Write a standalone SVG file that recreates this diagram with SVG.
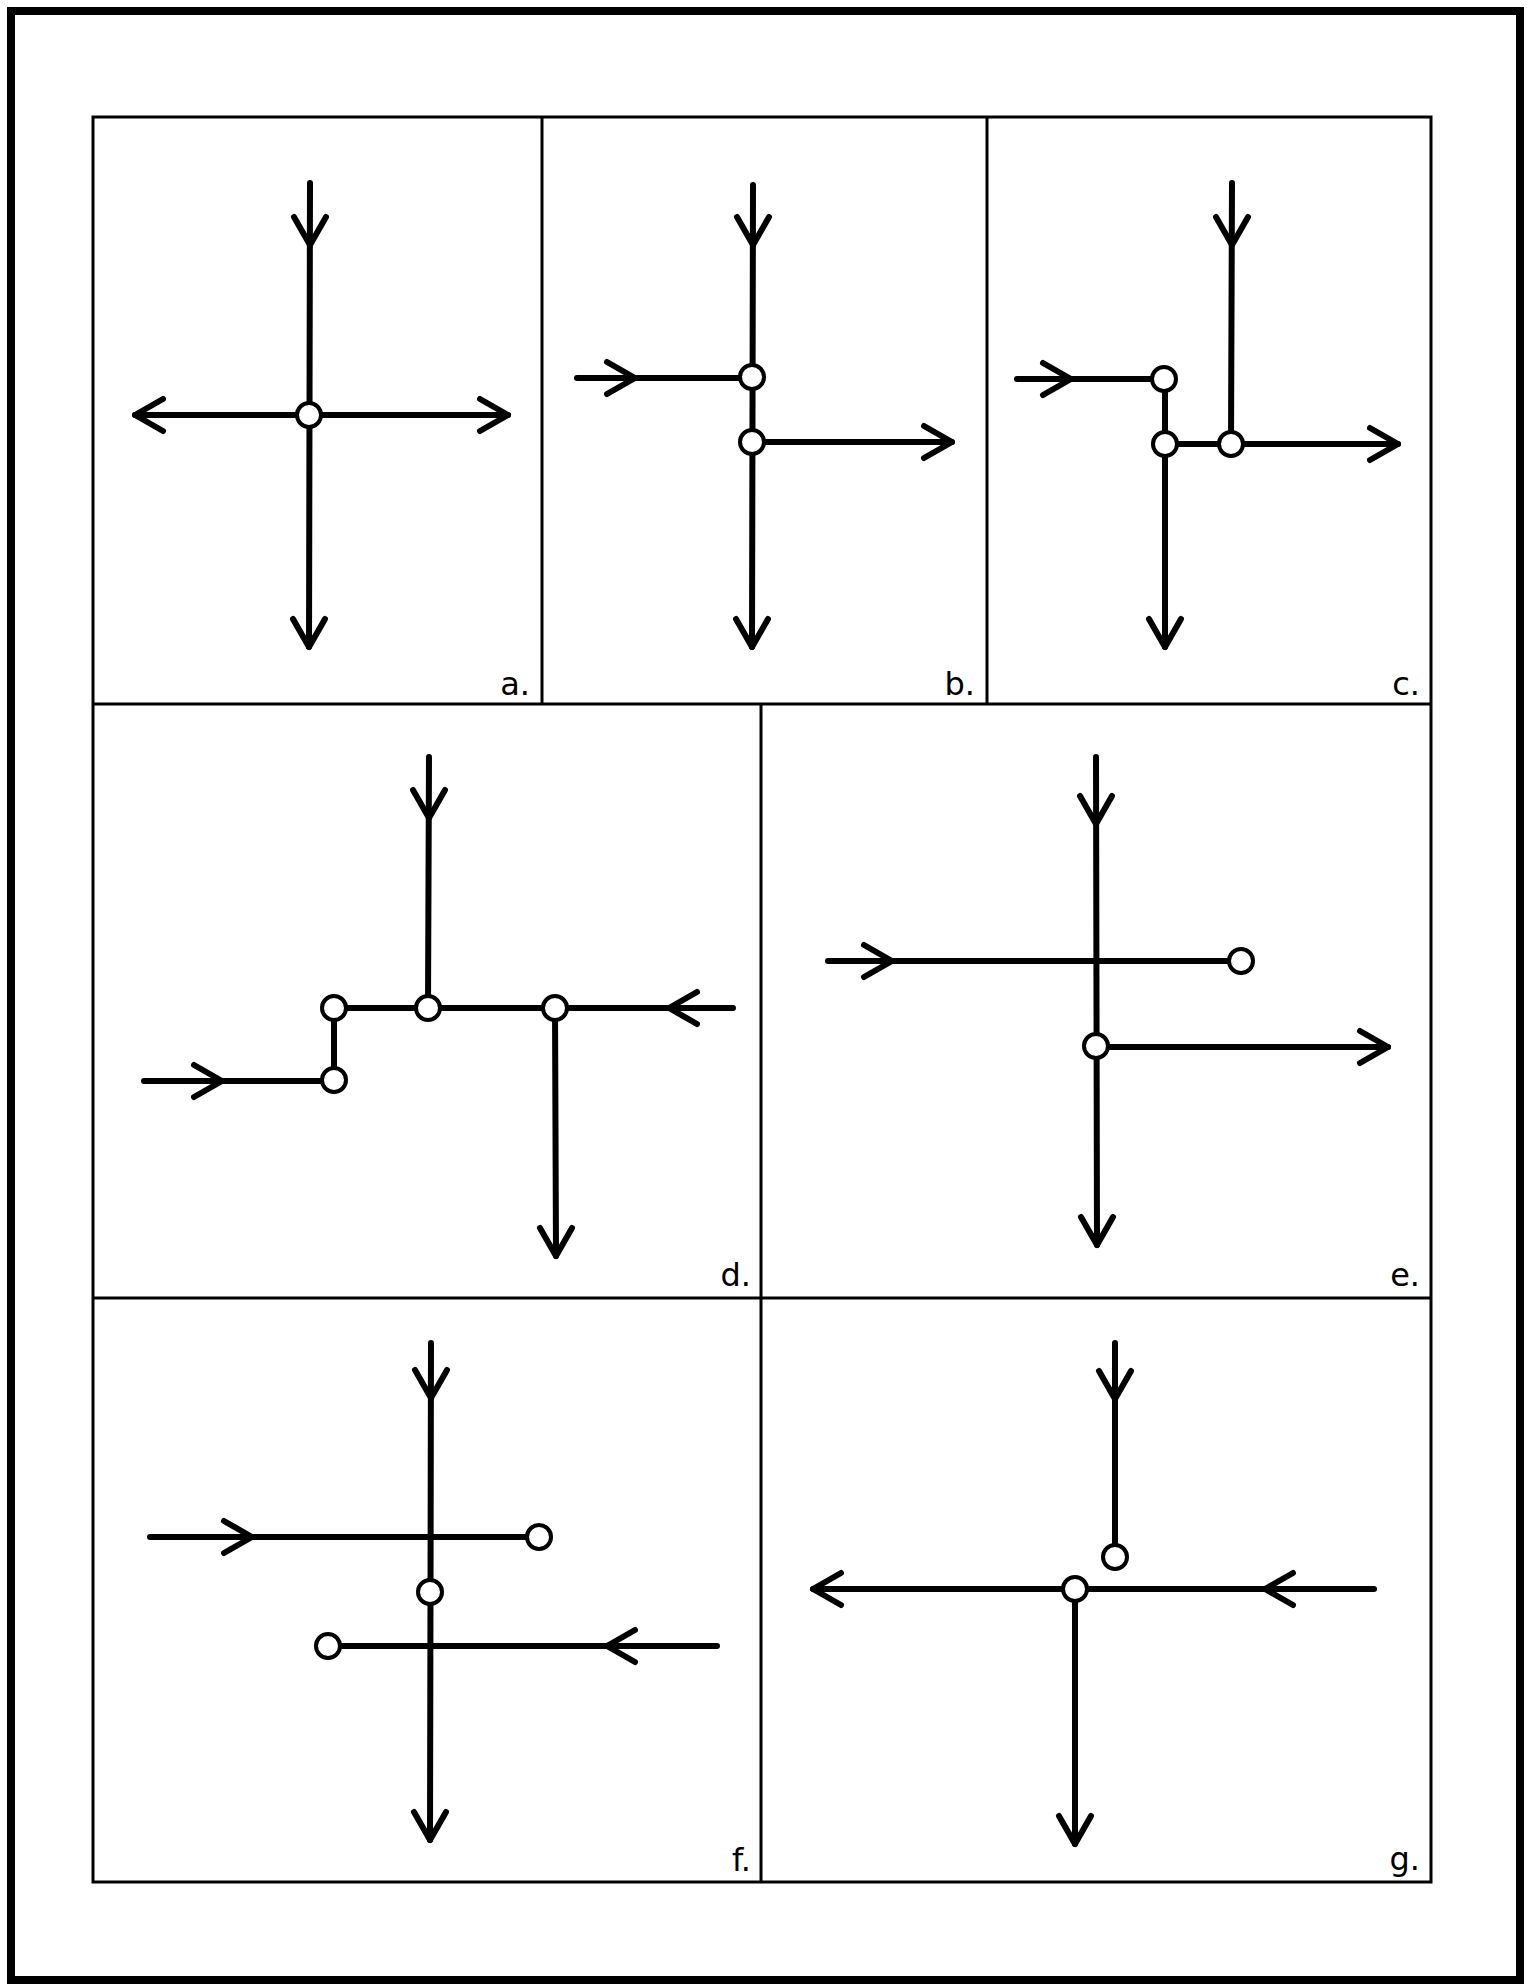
<svg xmlns="http://www.w3.org/2000/svg" xmlns:xlink="http://www.w3.org/1999/xlink" width="1527" height="1985" viewBox="0 0 1527 1985">
<style>
.frame{fill:none;stroke:#000;stroke-width:3}
.outer{fill:none;stroke:#000;stroke-width:8}
.ln{fill:none;stroke:#000;stroke-width:6;stroke-linecap:round;stroke-linejoin:round}
.node{fill:#fff;stroke:#000;stroke-width:4}
.lbl{font-family:"DejaVu Sans","Liberation Sans",sans-serif;font-size:32px;fill:#000;text-anchor:end}
</style>
<defs>
<path id="chev" d="M-28,-16 L0,0 L-28,16" fill="none" stroke="#000" stroke-width="6" stroke-linecap="round" stroke-linejoin="round"/>
</defs>
<rect width="1527" height="1985" fill="#fff"/>
<g id="frames">
<rect class="outer" x="11" y="11" width="1509" height="1969"/>
<rect class="frame" x="93" y="117" width="1338" height="1765"/>
<line class="frame" x1="93" y1="704" x2="1431" y2="704"/>
<line class="frame" x1="93" y1="1298" x2="1431" y2="1298"/>
<line class="frame" x1="542" y1="117" x2="542" y2="704"/>
<line class="frame" x1="987" y1="117" x2="987" y2="704"/>
<line class="frame" x1="761" y1="704" x2="761" y2="1882"/>
</g>
<g id="connectors">
<!-- a -->
<line class="ln" x1="310" y1="183" x2="309" y2="647"/>
<line class="ln" x1="135" y1="415" x2="508" y2="415"/>
<use xlink:href="#chev" transform="translate(310,245) rotate(90)"/>
<use xlink:href="#chev" transform="translate(309,647) rotate(90)"/>
<use xlink:href="#chev" transform="translate(135,415) rotate(180)"/>
<use xlink:href="#chev" transform="translate(508,415)"/>
<!-- b -->
<line class="ln" x1="753" y1="185" x2="752" y2="647"/>
<line class="ln" x1="577" y1="378" x2="752" y2="378"/>
<line class="ln" x1="752" y1="442" x2="952" y2="442"/>
<use xlink:href="#chev" transform="translate(753,245) rotate(90)"/>
<use xlink:href="#chev" transform="translate(752,647) rotate(90)"/>
<use xlink:href="#chev" transform="translate(635,378)"/>
<use xlink:href="#chev" transform="translate(952,442)"/>
<!-- c -->
<line class="ln" x1="1017" y1="379" x2="1164" y2="379"/>
<line class="ln" x1="1165" y1="379" x2="1165" y2="647"/>
<line class="ln" x1="1165" y1="444" x2="1398" y2="444"/>
<line class="ln" x1="1232" y1="183" x2="1231" y2="444"/>
<use xlink:href="#chev" transform="translate(1071,379)"/>
<use xlink:href="#chev" transform="translate(1165,647) rotate(90)"/>
<use xlink:href="#chev" transform="translate(1398,444)"/>
<use xlink:href="#chev" transform="translate(1232,245) rotate(90)"/>
<!-- d -->
<line class="ln" x1="429" y1="757" x2="428" y2="1008"/>
<line class="ln" x1="334" y1="1008" x2="733" y2="1008"/>
<line class="ln" x1="334" y1="1008" x2="334" y2="1080"/>
<line class="ln" x1="144" y1="1081" x2="334" y2="1081"/>
<line class="ln" x1="555" y1="1008" x2="556" y2="1256"/>
<use xlink:href="#chev" transform="translate(429,818) rotate(90)"/>
<use xlink:href="#chev" transform="translate(669,1008) rotate(180)"/>
<use xlink:href="#chev" transform="translate(222,1081)"/>
<use xlink:href="#chev" transform="translate(556,1256) rotate(90)"/>
<!-- e -->
<line class="ln" x1="1096" y1="757" x2="1097" y2="1245"/>
<line class="ln" x1="828" y1="961" x2="1241" y2="961"/>
<line class="ln" x1="1096" y1="1047" x2="1388" y2="1047"/>
<use xlink:href="#chev" transform="translate(1096,824) rotate(90)"/>
<use xlink:href="#chev" transform="translate(1097,1245) rotate(90)"/>
<use xlink:href="#chev" transform="translate(892,961)"/>
<use xlink:href="#chev" transform="translate(1388,1047)"/>
<!-- f -->
<line class="ln" x1="431" y1="1343" x2="430" y2="1840"/>
<line class="ln" x1="150" y1="1537" x2="539" y2="1537"/>
<line class="ln" x1="328" y1="1646" x2="717" y2="1646"/>
<use xlink:href="#chev" transform="translate(431,1398) rotate(90)"/>
<use xlink:href="#chev" transform="translate(430,1840) rotate(90)"/>
<use xlink:href="#chev" transform="translate(252,1537)"/>
<use xlink:href="#chev" transform="translate(607,1646) rotate(180)"/>
<!-- g -->
<line class="ln" x1="1115" y1="1343" x2="1115" y2="1557"/>
<line class="ln" x1="813" y1="1589" x2="1374" y2="1589"/>
<line class="ln" x1="1075" y1="1589" x2="1075" y2="1844"/>
<use xlink:href="#chev" transform="translate(1115,1399) rotate(90)"/>
<use xlink:href="#chev" transform="translate(813,1589) rotate(180)"/>
<use xlink:href="#chev" transform="translate(1265,1589) rotate(180)"/>
<use xlink:href="#chev" transform="translate(1075,1844) rotate(90)"/>
</g>
<g id="node-a1"><circle class="node" cx="309" cy="415" r="12"/></g>
<g id="node-b1"><circle class="node" cx="752" cy="377" r="12"/></g>
<g id="node-b2"><circle class="node" cx="752" cy="442" r="12"/></g>
<g id="node-c1"><circle class="node" cx="1164" cy="379" r="12"/></g>
<g id="node-c2"><circle class="node" cx="1165" cy="444" r="12"/></g>
<g id="node-c3"><circle class="node" cx="1231" cy="444" r="12"/></g>
<g id="node-d1"><circle class="node" cx="334" cy="1008" r="12"/></g>
<g id="node-d2"><circle class="node" cx="428" cy="1008" r="12"/></g>
<g id="node-d3"><circle class="node" cx="555" cy="1008" r="12"/></g>
<g id="node-d4"><circle class="node" cx="334" cy="1080" r="12"/></g>
<g id="node-e1"><circle class="node" cx="1241" cy="961" r="12"/></g>
<g id="node-e2"><circle class="node" cx="1096" cy="1046" r="12"/></g>
<g id="node-f1"><circle class="node" cx="539" cy="1537" r="12"/></g>
<g id="node-f2"><circle class="node" cx="430" cy="1592" r="12"/></g>
<g id="node-f3"><circle class="node" cx="328" cy="1646" r="12"/></g>
<g id="node-g1"><circle class="node" cx="1115" cy="1557" r="12"/></g>
<g id="node-g2"><circle class="node" cx="1075" cy="1589" r="12"/></g>
<g id="labels">
<text class="lbl" x="530" y="695">a.</text>
<text class="lbl" x="975" y="695">b.</text>
<text class="lbl" x="1420" y="695">c.</text>
<text class="lbl" x="751" y="1286">d.</text>
<text class="lbl" x="1420" y="1286">e.</text>
<text class="lbl" x="751" y="1871">f.</text>
<text class="lbl" x="1420" y="1870">g.</text>
</g>
</svg>
